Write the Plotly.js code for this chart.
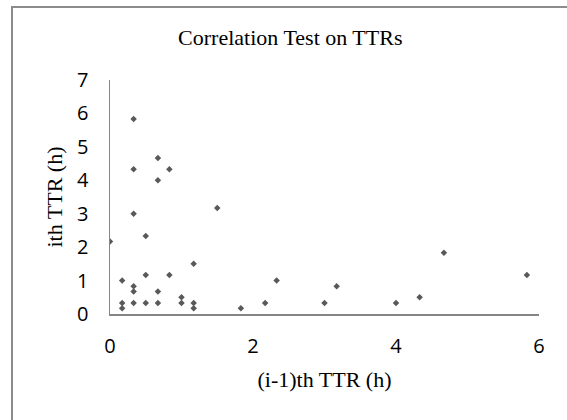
<!DOCTYPE html>
<html>
<head>
<meta charset="utf-8">
<script src="https://cdn.plot.ly/plotly-3.0.1.min.js"></script>
<style>
  html, body { margin: 0; padding: 0; background: #fff; }
  #wrap { position: relative; width: 567px; height: 420px; overflow: hidden; }
  #chart { width: 567px; height: 420px; }
  #frame { position: absolute; left: 11px; top: 6px; width: 600px; height: 500px;
           border-left: 2px solid #8c8c8c; border-top: 2px solid #8c8c8c; pointer-events: none; }
</style>
</head>
<body>
<div id="wrap">
  <div id="chart"></div>
  <div id="frame"></div>
</div>
<script>
// (i-1)th TTR (h)
const prevTTR = [0.33, 0.33, 0.67, 0.83, 0.67, 0.33, 1.5, 0.5, 0, 1.17,
                 0.5, 0.83, 0.17, 2.33, 4.67, 5.83, 0.33, 0.33, 0.67, 3.17,
                 1.0, 4.33, 0.17, 0.17, 0.33, 0.5, 0.67, 1.0, 1.17, 1.17,
                 1.83, 2.17, 3.0, 4.0];
// ith TTR (h)
const currTTR = [5.83, 4.33, 4.67, 4.33, 4.0, 3.0, 3.17, 2.33, 2.17, 1.5,
                 1.17, 1.17, 1.0, 1.0, 1.83, 1.17, 0.83, 0.67, 0.67, 0.83,
                 0.5, 0.5, 0.33, 0.17, 0.33, 0.33, 0.33, 0.33, 0.33, 0.17,
                 0.17, 0.33, 0.33, 0.33];
const xTicks = [0, 2, 4, 6];
const yTicks = [0, 1, 2, 3, 4, 5, 6, 7];

const trace = {
  x: prevTTR, y: currTTR, type: 'scatter', mode: 'markers',
  marker: { symbol: 'diamond', size: 5, color: '#595959' },
  hoverinfo: 'x+y'
};

const serif = 'Liberation Serif, Times New Roman, serif';
const sans = 'Open Sans, Liberation Sans, sans-serif';

const layout = {
  width: 567, height: 420,
  margin: { l: 110, r: 28, t: 80, b: 106, pad: 0 },
  paper_bgcolor: '#ffffff', plot_bgcolor: '#ffffff',
  showlegend: false,
  title: { text: 'Correlation Test on TTRs', font: { family: serif, size: 22, color: '#000' },
           x: 0.512, xref: 'container', xanchor: 'center', y: 0.912, yref: 'container', yanchor: 'middle' },
  xaxis: {
    range: [0, 6], tickvals: xTicks, ticktext: xTicks.map(String),
    showgrid: false, zeroline: false, showline: true, linecolor: '#868686', linewidth: 1.5,
    ticks: '', ticklabelstandoff: 13,
    tickfont: { family: sans, size: 20, color: '#000' },
    title: { text: '(i-1)th TTR (h)', font: { family: serif, size: 22, color: '#000' }, standoff: 14 },
    fixedrange: true
  },
  yaxis: {
    range: [0, 7], tickvals: yTicks, ticktext: yTicks.map(String),
    showgrid: false, zeroline: false, showline: true, linecolor: '#868686', linewidth: 1.5,
    ticks: '', ticklabelstandoff: 16,
    tickfont: { family: sans, size: 20, color: '#000' },
    title: { text: 'ith TTR (h)', font: { family: serif, size: 22, color: '#000' }, standoff: 8 },
    fixedrange: true
  }
};

Plotly.newPlot('chart', [trace], layout, { displayModeBar: false, staticPlot: true });
</script>
</body>
</html>
